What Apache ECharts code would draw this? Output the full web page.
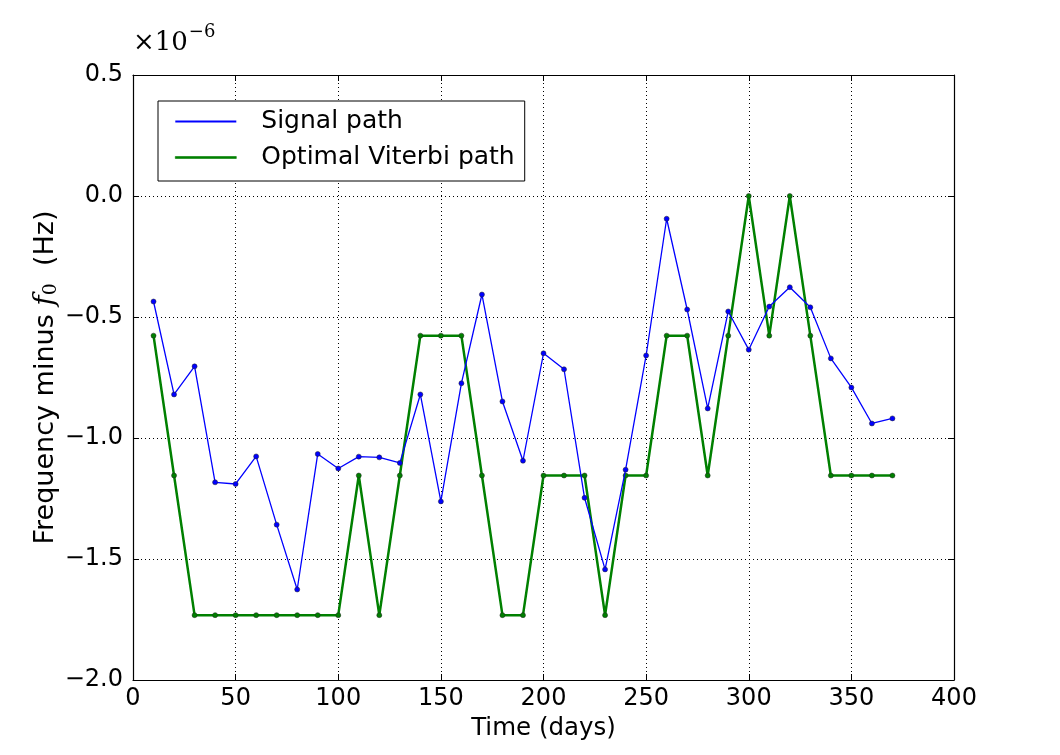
<!DOCTYPE html>
<html>
<head>
<meta charset="utf-8">
<script src="https://cdn.jsdelivr.net/npm/echarts@6/dist/echarts.min.js"></script>
<style>
  html, body { margin: 0; padding: 0; background: #fff; }
  #chart { width: 1060px; height: 755px; }
</style>
</head>
<body>
<div id="chart"></div>
<script>
// time in days
var days = [10, 20, 30, 40, 50, 60, 70, 80, 90, 100, 110, 120, 130, 140, 150, 160, 170, 180, 190,
            200, 210, 220, 230, 240, 250, 260, 270, 280, 290, 300, 310, 320, 330, 340, 350, 360, 370];
// frequency minus f0, in units of 1e-6 Hz
var signalPath = [-0.436, -0.820, -0.704, -1.183, -1.190, -1.076, -1.358, -1.626, -1.066, -1.126,
                  -1.077, -1.080, -1.103, -0.820, -1.262, -0.774, -0.407, -0.849, -1.094, -0.650,
                  -0.716, -1.247, -1.543, -1.131, -0.659, -0.094, -0.469, -0.878, -0.477, -0.635,
                  -0.457, -0.377, -0.460, -0.671, -0.791, -0.940, -0.919];
var viterbiPath = [-0.577, -1.155, -1.732, -1.732, -1.732, -1.732, -1.732, -1.732, -1.732, -1.732,
                   -1.155, -1.732, -1.155, -0.577, -0.577, -0.577, -1.155, -1.732, -1.732, -1.155,
                   -1.155, -1.155, -1.732, -1.155, -1.155, -0.577, -0.577, -1.155, -0.577, 0,
                   -0.577, 0, -0.577, -1.155, -1.155, -1.155, -1.155];
var seriesNames = ['Signal path', 'Optimal Viterbi path'];

var pair = function (ys) {
    return days.map(function (d, i) { return [d, ys[i]]; });
};
var fmtY = function (v) {
    return v.toFixed(1).replace('-', '\u2212');
};

var myChart = echarts.init(document.getElementById('chart'));
var font = 'DejaVu Sans';
var gridLine = { show: true, lineStyle: { color: '#000', width: 1, type: [1, 3] } };
var tick = { show: true, inside: true, length: 6, lineStyle: { color: '#000', width: 1 } };
var frame = { show: true, onZero: false, lineStyle: { color: '#000', width: 1.2 } };

var option = {
    animation: false,
    backgroundColor: '#fff',
    grid: { left: 133, right: 106, top: 75, bottom: 75 },
    graphic: [{
        type: 'text',
        left: 133,
        top: 23,
        style: {
            text: '{a|\u00d710}{b|\u22126}',
            rich: {
                a: { fontFamily: 'DejaVu Serif', fontSize: 26, fill: '#000', padding: [12, 0, 0, 0] },
                b: { fontFamily: 'DejaVu Serif', fontSize: 18, fill: '#000', padding: [0, 0, 10, 1] }
            }
        }
    }],
    legend: {
        orient: 'vertical',
        left: 158,
        top: 101,
        padding: [8, 10, 11, 17],
        itemGap: 11,
        itemWidth: 61,
        itemHeight: 2,
        borderColor: '#000',
        borderWidth: 1,
        backgroundColor: '#fff',
        textStyle: { fontFamily: font, fontSize: 25, color: '#000', padding: [0, 0, 0, 20] },
        data: [
            { name: seriesNames[0], icon: 'rect', itemStyle: { color: '#0000ff', borderWidth: 0 } },
            { name: seriesNames[1], icon: 'rect', itemStyle: { color: '#008000', borderColor: '#008000', borderWidth: 0.6 } }
        ]
    },
    xAxis: [{
        type: 'value',
        min: 0,
        max: 400,
        interval: 50,
        name: 'Time (days)',
        nameLocation: 'middle',
        nameGap: 34,
        nameTextStyle: { fontFamily: font, fontSize: 24.5, color: '#000' },
        axisLine: frame,
        axisTick: tick,
        splitLine: gridLine,
        axisLabel: { fontFamily: font, fontSize: 24, color: '#000', margin: 7 }
    }, {
        type: 'value',
        position: 'top',
        min: 0,
        max: 400,
        interval: 50,
        axisLine: frame,
        axisTick: tick,
        splitLine: { show: false },
        axisLabel: { show: false }
    }],
    yAxis: [{
        type: 'value',
        min: -2.0,
        max: 0.5,
        interval: 0.5,
        name: '{a|Frequency minus }{f|f}{s|0}{a|  (Hz)}',
        nameLocation: 'middle',
        nameGap: 72,
        nameMoveOverlap: false,
        nameTextStyle: {
            rich: {
                a: { fontFamily: font, fontSize: 27, color: '#000' },
                f: { fontFamily: 'DejaVu Serif', fontStyle: 'italic', fontSize: 28, color: '#000' },
                s: { fontFamily: 'DejaVu Serif', fontSize: 19, color: '#000', padding: [12, 0, 0, 0] }
            }
        },
        axisLine: frame,
        axisTick: tick,
        splitLine: gridLine,
        axisLabel: { fontFamily: font, fontSize: 24, color: '#000', margin: 10, formatter: fmtY }
    }, {
        type: 'value',
        position: 'right',
        min: -2.0,
        max: 0.5,
        interval: 0.5,
        axisLine: frame,
        axisTick: tick,
        splitLine: { show: false },
        axisLabel: { show: false }
    }],
    series: [{
        name: seriesNames[0],
        type: 'line',
        data: pair(signalPath),
        symbol: 'circle',
        symbolSize: 5,
        z: 3,
        lineStyle: { color: '#0000ff', width: 1.3 },
        itemStyle: { color: '#0000ff', borderColor: '#222', borderWidth: 0.5 }
    }, {
        name: seriesNames[1],
        type: 'line',
        data: pair(viterbiPath),
        symbol: 'circle',
        symbolSize: 5,
        z: 2,
        lineStyle: { color: '#008000', width: 2.5 },
        itemStyle: { color: '#008000', borderColor: '#222', borderWidth: 0.5 }
    }]
};
myChart.setOption(option);
</script>
</body>
</html>
